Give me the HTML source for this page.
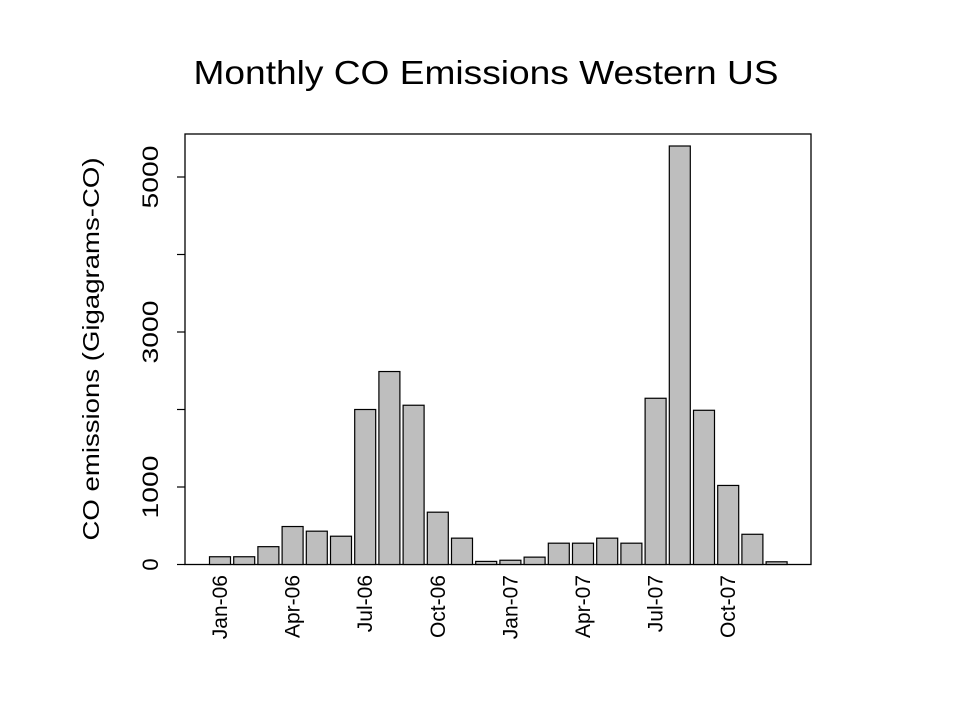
<!DOCTYPE html>
<html><head><meta charset="utf-8"><style>
html,body{margin:0;padding:0;background:#fff;}
svg{display:block;font-family:"Liberation Sans",Arial,sans-serif;}
</style></head><body>
<svg id="chart" width="960" height="720" viewBox="0 0 960 720">
<text x="486" y="84" text-anchor="middle" font-size="33" textLength="585" lengthAdjust="spacingAndGlyphs">Monthly CO Emissions Western US</text>
<rect x="185" y="134" width="626" height="430.5" fill="none" stroke="#000" stroke-width="1.3"/>
<text transform="translate(99,349) rotate(-90)" text-anchor="middle" font-size="23" textLength="383" lengthAdjust="spacingAndGlyphs">CO emissions (Gigagrams-CO)</text>
<g id="bars"></g><g id="yaxis"></g><g id="xaxis"></g>
</svg>
<script>
const categories=["Jan-06","Feb-06","Mar-06","Apr-06","May-06","Jun-06","Jul-06","Aug-06","Sep-06","Oct-06","Nov-06","Dec-06","Jan-07","Feb-07","Mar-07","Apr-07","May-07","Jun-07","Jul-07","Aug-07","Sep-07","Oct-07","Nov-07","Dec-07"];
const emissions=[100,100,230,490,430,365,2000,2490,2055,675,340,40,55,95,275,275,340,275,2145,5400,1990,1020,390,35];
const yTicks=[0,1000,2000,3000,4000,5000];
const yTickLabels=["0","1000","","3000","","5000"];
const xLabelEvery=3;
const NS="http://www.w3.org/2000/svg";
const y0=564.5, yPerUnit=0.0775;
function yScale(v){return y0-v*yPerUnit;}
const xFirst=220, xStep=24.2, barW=21;
function xScale(i){return xFirst+i*xStep;}
const gb=document.getElementById('bars');
emissions.forEach((v,i)=>{
  const r=document.createElementNS(NS,'rect');
  r.setAttribute('x',xScale(i)-barW/2);
  r.setAttribute('y',yScale(v));
  r.setAttribute('width',barW);
  r.setAttribute('height',y0-yScale(v));
  r.setAttribute('fill','#bebebe');
  r.setAttribute('stroke','#000');
  r.setAttribute('stroke-width','1.2');
  
  
  gb.appendChild(r);
});
const gy=document.getElementById('yaxis');
yTicks.forEach((t,i)=>{
  const l=document.createElementNS(NS,'line');
  l.setAttribute('x1',177);l.setAttribute('x2',185);
  l.setAttribute('y1',yScale(t));l.setAttribute('y2',yScale(t));
  l.setAttribute('stroke','#000');l.setAttribute('stroke-width','1.2');
  
  
  gy.appendChild(l);
  if(yTickLabels[i]){
    const tx=document.createElementNS(NS,'text');
    tx.setAttribute('transform','translate(158,'+yScale(t)+') rotate(-90)');
    tx.setAttribute('text-anchor','middle');
    tx.setAttribute('font-size','22');
    if(yTickLabels[i].length===4){tx.setAttribute('textLength','63');tx.setAttribute('lengthAdjust','spacingAndGlyphs');}
    tx.textContent=yTickLabels[i];
    
    
    gy.appendChild(tx);
  }
});
const gx=document.getElementById('xaxis');
categories.forEach((c,i)=>{
  if(i%xLabelEvery!==0)return;
  const tx=document.createElementNS(NS,'text');
  tx.setAttribute('transform','translate('+(xScale(i)+7)+',575) rotate(-90)');
  tx.setAttribute('text-anchor','end');
  tx.setAttribute('font-size','21');
  tx.textContent=c;
  
  
  gx.appendChild(tx);
});
</script>
</body></html>
